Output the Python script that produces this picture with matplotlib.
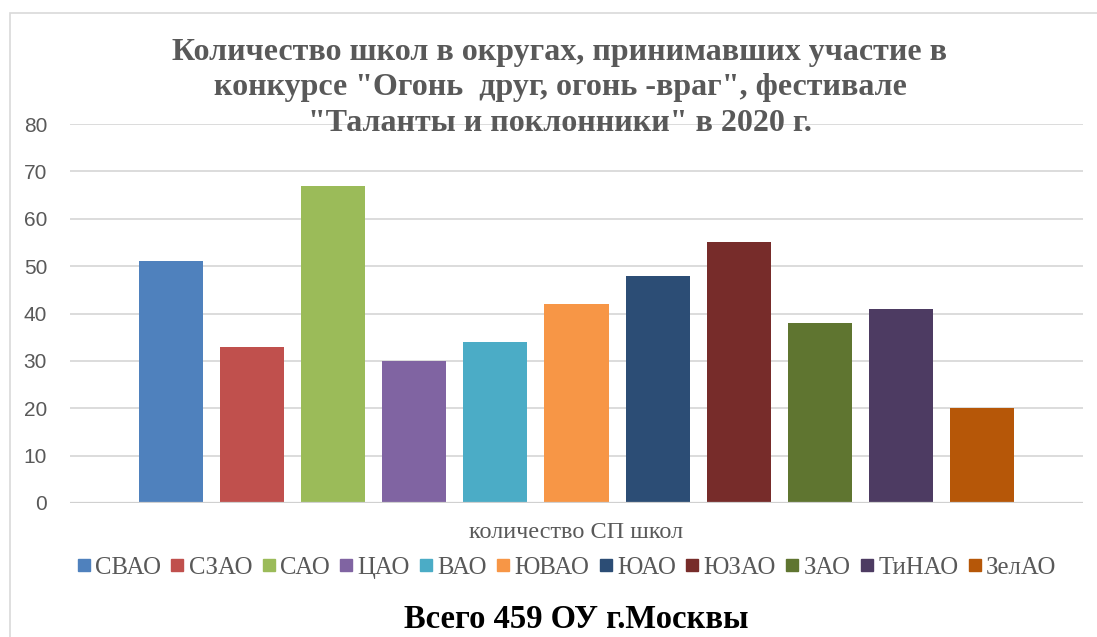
import numpy as np
import matplotlib
matplotlib.use("Agg")
import matplotlib.pyplot as plt
from matplotlib.patches import Rectangle
from matplotlib.lines import Line2D

# --- data --------------------------------------------------------------
districts = ["СВАО", "СЗАО", "САО", "ЦАО", "ВАО", "ЮВАО",
             "ЮАО", "ЮЗАО", "ЗАО", "ТиНАО", "ЗелАО"]
schools   = [51, 33, 67, 30, 34, 42, 48, 55, 38, 41, 20]
colors    = ["#4F81BD", "#C0504D", "#9BBB59", "#8064A2", "#4BACC6", "#F79646",
             "#2C4D75", "#772C2A", "#5F7530", "#4D3B62", "#B65708"]
yticks    = [0, 10, 20, 30, 40, 50, 60, 70, 80]

title  = ('Количество школ в округах, принимавших участие в\n'
          'конкурсе "Огонь  друг, огонь -враг", фестивале\n'
          '"Таланты и поклонники" в 2020 г.')
xtitle = "количество СП школ"
total  = "Всего 459 ОУ г.Москвы"

serif = ["Liberation Serif", "DejaVu Serif"]
gray  = "#595959"

# --- figure ------------------------------------------------------------
W, H = 1097, 637
fig = plt.figure(figsize=(W / 100, H / 100), dpi=100)

# chart frame (left/top visible)
fig.patches.append(Rectangle((10 / W, -0.05), 1.2, (H - 13) / H + 0.05,
                             transform=fig.transFigure, fill=False,
                             edgecolor="#D9D9D9", linewidth=1.2))

# plot area in pixel coords: x 70..1083, y 124(80)..503(0)
ax = fig.add_axes([70 / W, 1 - 503 / H, (1083 - 70) / W, (503 - 124) / H])
x = np.arange(len(schools))
ax.bar(x, schools, width=0.79, color=colors, zorder=3)
ax.set_xlim(-1.245, len(schools) - 1 + 1.245)
ax.set_ylim(0, 80)
ax.set_yticks(yticks)
ax.set_xticks([])
for s in ax.spines.values():
    s.set_visible(False)
ax.grid(axis="y", color="#D9D9D9", linewidth=1.3, zorder=0)
ax.axhline(0, color="#D0D0D0", linewidth=1.6, zorder=4)
ax.tick_params(axis="y", length=0, pad=16.5, labelsize=15, labelcolor=gray)
for lb in ax.get_yticklabels():
    lb.set_family(["Liberation Sans", "DejaVu Sans"])

fig.text(560 / W, 1 - 88 / H, title, ha="center", va="center",
         family=serif, fontweight="bold", fontsize=23, color=gray,
         linespacing=1.3)
fig.text(576 / W, 1 - 533 / H, xtitle, ha="center", va="center",
         family=serif, fontsize=17.5, color=gray)

handles = [Line2D([], [], marker="s", linestyle="none", markersize=8.6,
                  markerfacecolor=c, markeredgecolor=c) for c in colors]
leg = fig.legend(handles, districts, loc="center", ncol=len(districts),
                 bbox_to_anchor=(567 / W, 1 - 568 / H), frameon=False,
                 prop={"family": serif, "size": 17.8},
                 handlelength=0.5, handletextpad=0.2, columnspacing=0.42,
                 borderpad=0)
for t in leg.get_texts():
    t.set_color(gray)

fig.text(576 / W, 1 - 619 / H, total, ha="center", va="center",
         family=serif, fontweight="bold", fontsize=23.5, color="black")

fig.savefig("out.png", dpi=100)
